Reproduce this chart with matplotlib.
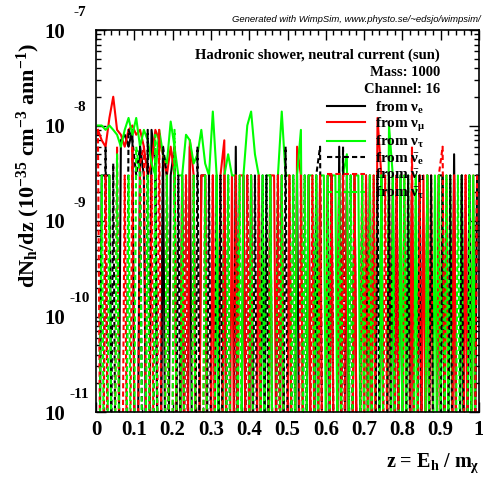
import numpy as np
import matplotlib
matplotlib.use("Agg")
import matplotlib.pyplot as plt
from matplotlib.ticker import FixedLocator, FuncFormatter, MultipleLocator, LogLocator, NullFormatter

plt.rcParams['mathtext.fontset'] = 'custom'
plt.rcParams['mathtext.rm'] = 'Liberation Serif:bold'
plt.rcParams['mathtext.it'] = 'Liberation Serif:italic:bold'
plt.rcParams['mathtext.bf'] = 'Liberation Serif:bold'
plt.rcParams['font.family'] = ['Liberation Serif', 'DejaVu Serif']
plt.rcParams['font.weight'] = 'bold'

# bin centres in z = E_h / m_chi (100 bins)
z = np.arange(100) * 0.01 + 0.005

# dN_h/dz values in units of 1e-9 (10^-35 cm^-3 ann^-1); 0 = empty bin
nu_e = [0, 3, 3, 3, 0, 0, 7, 8, 6, 9,
        0, 6, 3, 0, 9, 4, 0, 6, 0, 3,
        6, 0, 3, 0, 6, 0, 0, 3, 3, 0,
        0, 3, 0, 3, 0, 0, 6, 0, 3, 0,
        3, 0, 0, 3, 0, 3, 0, 0, 3, 0,
        0, 0, 3, 0, 0, 3, 0, 3, 0, 0,
        3, 0, 0, 6, 0, 3, 0, 3, 0, 0,
        0, 3, 0, 0, 3, 0, 0, 3, 0, 3,
        0, 0, 3, 0, 3, 0, 3, 0, 0, 3,
        3, 0, 0, 5, 0, 3, 0, 3, 0, 3]
nu_mu = [9, 7, 6, 12, 20, 9, 8, 6, 9, 10,
         8, 9, 6, 3, 4, 9, 7, 5, 3, 6,
         3, 0, 3, 0, 7, 3, 0, 3, 3, 0,
         3, 0, 3, 7, 0, 3, 0, 3, 3, 0,
         3, 0, 3, 0, 0, 3, 3, 0, 3, 0,
         3, 0, 6, 3, 0, 3, 0, 0, 3, 0,
         3, 3, 0, 3, 0, 3, 0, 3, 0, 3,
         0, 3, 0, 12, 3, 0, 3, 0, 3, 0,
         3, 0, 3, 0, 0, 3, 0, 3, 0, 3,
         0, 3, 0, 3, 0, 0, 3, 0, 3, 0]
nu_tau = [10, 10, 9, 10, 9, 8, 6, 9, 12, 8,
          12, 6, 9, 7, 4, 3, 9, 5, 4, 11,
          6, 3, 3, 8, 7, 4, 5, 9, 4, 3,
          14, 3, 0, 3, 5, 3, 3, 0, 3, 10,
          14, 5, 3, 0, 3, 3, 0, 3, 14, 3,
          3, 0, 3, 9, 0, 3, 3, 0, 3, 3,
          0, 3, 3, 0, 3, 5, 0, 3, 3, 0,
          3, 0, 3, 0, 3, 0, 10, 3, 0, 3,
          0, 3, 0, 3, 0, 0, 3, 0, 3, 0,
          3, 0, 3, 0, 0, 3, 0, 0, 3, 0]
nu_e_bar = [0, 0, 6, 0, 4, 0, 0, 0, 9, 7,
            3, 6, 0, 9, 0, 3, 0, 6, 3, 0,
            0, 3, 0, 3, 0, 0, 6, 0, 0, 3,
            0, 0, 3, 0, 3, 0, 3, 0, 0, 3,
            0, 3, 0, 0, 3, 0, 0, 3, 0, 6,
            0, 3, 0, 0, 3, 0, 0, 3, 6, 0,
            0, 3, 0, 0, 6, 0, 3, 0, 0, 3,
            3, 0, 0, 3, 0, 0, 3, 0, 3, 0,
            0, 3, 0, 0, 3, 0, 0, 3, 0, 0,
            3, 0, 3, 0, 0, 3, 0, 3, 0, 3]
nu_mu_bar = [9, 0, 3, 0, 0, 6, 0, 3, 0, 6,
             0, 4, 6, 0, 3, 0, 9, 0, 3, 0,
             6, 0, 0, 3, 0, 3, 0, 0, 3, 0,
             3, 0, 0, 3, 0, 0, 3, 0, 0, 3,
             0, 0, 3, 0, 0, 3, 0, 3, 0, 0,
             3, 0, 0, 3, 0, 0, 3, 0, 3, 0,
             0, 3, 0, 0, 3, 0, 0, 3, 0, 0,
             3, 0, 3, 0, 0, 3, 0, 0, 3, 0,
             0, 0, 6, 0, 3, 0, 3, 0, 0, 3,
             6, 0, 0, 3, 0, 0, 3, 0, 0, 3]
nu_tau_bar = [0, 3, 0, 3, 0, 5, 0, 0, 3, 0,
              6, 3, 0, 3, 0, 8, 0, 0, 3, 0,
              9, 0, 3, 0, 0, 3, 0, 0, 3, 0,
              0, 3, 0, 0, 3, 0, 0, 3, 0, 0,
              3, 0, 0, 3, 0, 3, 0, 0, 3, 0,
              0, 3, 0, 0, 3, 0, 0, 3, 0, 0,
              3, 0, 0, 3, 0, 0, 3, 0, 0, 3,
              0, 3, 0, 0, 3, 0, 0, 3, 0, 0,
              3, 0, 0, 3, 0, 0, 3, 0, 0, 3,
              0, 3, 0, 0, 3, 0, 0, 3, 0, 0]

y_ticks = [1e-11, 1e-10, 1e-9, 1e-8, 1e-7]
y_exponents = ['-11', '-10', '-9', '-8', '-7']

series = [
    (nu_e, 'black', '-', r'from $\mathrm{\nu_e}$'),
    (nu_mu, '#ff0000', '-', r'from $\mathrm{\nu_\mu}$'),
    (nu_tau, '#00ff00', '-', r'from $\mathrm{\nu_\tau}$'),
    (nu_e_bar, 'black', (0, (2.5, 1.5)), r'from $\mathrm{\bar{\nu}_e}$'),
    (nu_mu_bar, '#ff0000', (0, (2.5, 1.5)), r'from $\mathrm{\bar{\nu}_\mu}$'),
    (nu_tau_bar, '#00ff00', (0, (2.5, 1.5)), r'from $\mathrm{\bar{\nu}_\tau}$'),
]

W, H = 483, 479
fig = plt.figure(figsize=(W / 100, H / 100), dpi=100)
L, R, T, B = 96, 479, 30, 412
ax = fig.add_axes([L / W, 1 - B / H, (R - L) / W, (B - T) / H])

floor = 1e-14
for vals, col, ls, lab in series:
    v = np.array(vals, dtype=float) * 1e-9
    v = np.where(v > 0, v, floor)
    ax.plot(z, v, color=col, ls=ls, lw=1.5, label=lab)

ax.set_yscale('log')
ax.set_xlim(0, 1)
ax.set_ylim(1e-11, 1e-7)

ax.xaxis.set_major_locator(MultipleLocator(0.1))
ax.xaxis.set_minor_locator(MultipleLocator(0.02))
ax.xaxis.set_major_formatter(FuncFormatter(lambda v, p: '0' if abs(v) < 1e-9 else ('1' if abs(v - 1) < 1e-9 else f'{v:.1f}')))
ax.yaxis.set_major_locator(FixedLocator(y_ticks))
ax.yaxis.set_minor_locator(LogLocator(base=10, subs=np.arange(2, 10), numticks=20))
ax.yaxis.set_minor_formatter(NullFormatter())
ax.yaxis.set_major_formatter(FuncFormatter(lambda v, p: '10'))

ax.tick_params(which='both', direction='in', top=True, right=True, width=1, color='black')
ax.tick_params(which='major', length=7)
ax.tick_params(which='minor', length=3.5)
ax.tick_params(axis='x', which='major', labelsize=15, pad=6)
ax.tick_params(axis='y', which='major', labelsize=15, pad=22)
for lab in ax.get_xticklabels() + ax.get_yticklabels():
    lab.set_fontweight('bold')
for sp in ax.spines.values():
    sp.set_linewidth(1.2)

# exponents of the y tick labels (ROOT style)
for yv, e in zip(y_ticks, y_exponents):
    ax.annotate(e, xy=(0, yv), xycoords=('axes fraction', 'data'),
                xytext=(-12, 8), textcoords='offset points', ha='center', va='bottom',
                fontsize=11, fontweight='bold', annotation_clip=False)

ax.text(0.898, 0.935, 'Hadronic shower, neutral current (sun)', transform=ax.transAxes,
        ha='right', va='center', fontsize=10.5, fontweight='bold')
ax.text(0.898, 0.89, 'Mass: 1000', transform=ax.transAxes,
        ha='right', va='center', fontsize=10.5, fontweight='bold')
ax.text(0.898, 0.843, 'Channel: 16', transform=ax.transAxes,
        ha='right', va='center', fontsize=10.5, fontweight='bold')

leg = ax.legend(loc='upper left', bbox_to_anchor=(0.603, 0.818), frameon=False,
                fontsize=11, handlelength=2.5, handletextpad=0.65, labelspacing=0.02,
                borderaxespad=0, borderpad=0)
for t in leg.get_texts():
    t.set_fontweight('bold')

fig.text(481 / W, 1 - 20 / H, 'Generated with WimpSim, www.physto.se/~edsjo/wimpsim/',
         ha='right', va='center', fontsize=6.8, style='italic', fontweight='normal',
         family='Liberation Sans')

fig.text(28 / W, 1 - 165 / H, r'dN$_\mathrm{h}$/dz (10$^\mathrm{-35}$ cm$^\mathrm{-3}$ ann$^\mathrm{-1}$)',
         rotation=90, ha='center', va='center', fontsize=16, fontweight='bold')
fig.text(480 / W, 1 - 463 / H, r'z = E$_\mathrm{h}$ / m$_\mathrm{\chi}$',
         ha='right', va='center', fontsize=14.5, fontweight='bold')

fig.savefig('out.png', dpi=100, facecolor='white')
